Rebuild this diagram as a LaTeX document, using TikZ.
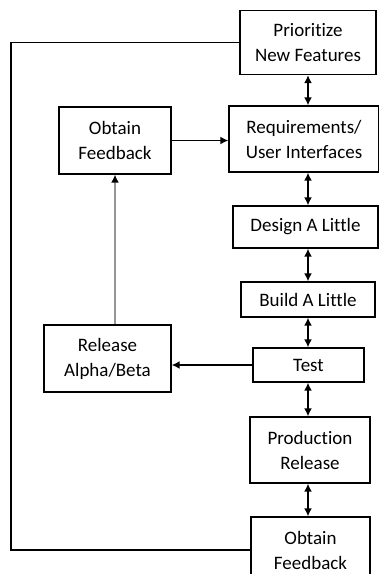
\documentclass[tikz,border=0pt]{standalone}
\usepackage{fontspec}
\setmainfont{Carlito}[Ligatures=NoCommon]
\usetikzlibrary{arrows.meta}

\begin{document}
\begin{tikzpicture}[x=1pt,y=-1pt,
  box/.style 2 args={draw,line width=1.3pt,align=center,inner sep=0pt,
    minimum width=#1pt,minimum height=#2pt},
  twoway/.style={draw,{Latex[length=8pt,width=8pt]}-{Latex[length=8pt,width=8pt]},line width=1.6pt},
  oneway/.style={draw,-{Latex[length=8pt,width=8pt]},line width=1.6pt}]
 \tikzstyle{every node}=[font=\fontsize{19}{25}\selectfont]
 \path[fill=white,use as bounding box] (0,0) rectangle (379,574);
 % main column
 \node[box={136}{64}] (prio)   at (308,42.5) {Prioritize\\New Features};
 \node[box={150}{66}] (req)    at (304,139)  {Requirements/\\User Interfaces};
 \node[box={145}{42}] (design) at (305.5,227) {Design A Little};
 \node[box={134}{35}] (build)  at (308,299.5) {Build A Little};
 \node[box={111}{34}] (test)   at (308.5,365) {Test};
 \node[box={120}{66}] (prod)   at (310,450)  {Production\\Release};
 \node[box={119}{66}] (fb2)    at (310.5,550) {Obtain\\Feedback};
 % side loop
 \node[box={112}{67}] (fb1)    at (115,140.5) {Obtain\\Feedback};
 \node[box={127}{67}] (rel)    at (107.5,358.5) {Release\\Alpha/Beta};
 \coordinate (axis) at (308,0);
 \coordinate (loop) at (11,0);
 \path
 (prio.south -| axis)   edge[twoway] (req.north -| axis)
 (req.south -| axis)    edge[twoway] (design.north -| axis)
 (design.south -| axis) edge[twoway] (build.north -| axis)
 (build.south -| axis)  edge[twoway] (test.north -| axis)
 (test.south -| axis)   edge[twoway] (prod.north -| axis)
 (prod.south -| axis)   edge[twoway] (fb2.north -| axis)
 ;
 \path
 (fb1.east)  edge[oneway] (fb1.east -| req.west)
 (test.west) edge[oneway] (test.west -| rel.east)
 ;
 \draw[line width=1.6pt,draw={rgb,255:red,150;green,150;blue,150},
   -{Latex[length=8pt,width=8pt,black]}]
 (fb1.south |- rel.north) -- (fb1.south);
 \draw[line width=1.5pt]
 (prio.west) -- (prio.west -| loop) -- (fb2.west -| loop) -- (fb2.west);
\end{tikzpicture}
\end{document}
